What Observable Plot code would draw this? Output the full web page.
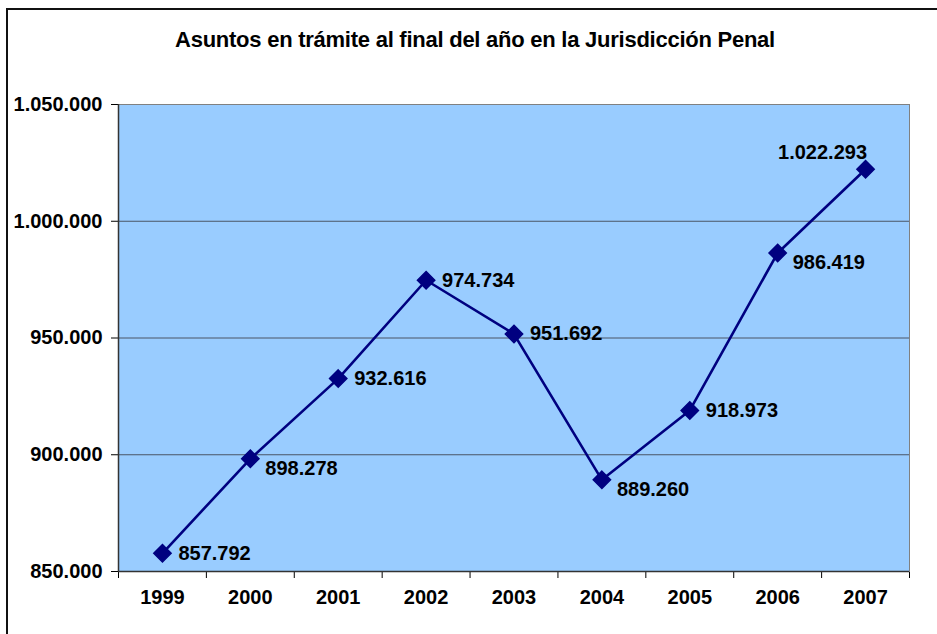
<!DOCTYPE html>
<html>
<head>
<meta charset="utf-8">
<script src="https://cdn.jsdelivr.net/npm/d3@7"></script>
<script src="https://cdn.jsdelivr.net/npm/@observablehq/plot@0.6"></script>
<style>
  html, body { margin: 0; padding: 0; background: #fff; }
  #wrap { position: relative; width: 937px; height: 634px; overflow: hidden; }
  #border { position: absolute; left: 6px; top: 8px; width: 940px; height: 640px; border: 2px solid #111; box-sizing: border-box; }
  #title { position: absolute; left: 0; width: 950px; top: 27px; text-align: center;
    font-family: "Liberation Sans", Arial, sans-serif; font-weight: bold; font-size: 22px; letter-spacing: -0.25px; color: #000; }
  #chart { position: absolute; left: 0; top: 0; }
</style>
</head>
<body>
<div id="wrap">
  <div id="border"></div>
  <div id="chart"></div>
  <div id="title">Asuntos en trámite al final del año en la Jurisdicción Penal</div>
</div>
<script>
const years = [1999, 2000, 2001, 2002, 2003, 2004, 2005, 2006, 2007];
const values = [857792, 898278, 932616, 974734, 951692, 889260, 918973, 986419, 1022293];
const yTicks = [850000, 900000, 950000, 1000000, 1050000];
const gridValues = [900000, 950000, 1000000];
const labelsRight = [1999, 2001, 2002, 2003, 2005];
const labelsLowerRight = [2000, 2004, 2006];
const labelsAbove = [2007];

const data = years.map((y, i) => ({year: y, value: values[i]}));
const fmt = d3.formatLocale({decimal: ",", thousands: ".", grouping: [3], currency: ["", ""]}).format(",");
const boundaries = years.map(y => y - 0.5).concat([years[years.length - 1] + 0.5]);
const inSet = s => data.filter(d => s.includes(d.year));

const chart = Plot.plot({
  width: 937,
  height: 634,
  marginLeft: 118,
  marginRight: 28,
  marginTop: 104,
  marginBottom: 63,
  style: {fontFamily: "'Liberation Sans', Arial, sans-serif", fontSize: "20px", fontWeight: "bold", color: "#000", background: "transparent"},
  x: {type: "linear", domain: [boundaries[0], boundaries[boundaries.length - 1]], ticks: boundaries, tickFormat: () => "", tickSize: 7, label: null},
  y: {domain: [yTicks[0], yTicks[yTicks.length - 1]], ticks: yTicks, tickFormat: fmt, tickSize: 7, tickPadding: 9, label: null},
  marks: [
    Plot.frame({fill: "#99CCFF", stroke: "#808080"}),
    Plot.ruleY(gridValues, {stroke: "#4a5566", strokeWidth: 1}),
    Plot.ruleX([boundaries[0]], {stroke: "#333", strokeWidth: 1.5}),
    Plot.ruleY([yTicks[0]], {stroke: "#333", strokeWidth: 1.5}),
    Plot.text(years, {x: d => d, frameAnchor: "bottom", dy: 32, text: d => String(d), fontSize: 20}),
    Plot.line(data, {x: "year", y: "value", stroke: "#000080", strokeWidth: 2.6}),
    Plot.dot(data, {x: "year", y: "value", symbol: "diamond2", r: 7.8, fill: "#000080", stroke: "#000080"}),
    Plot.text(inSet(labelsRight), {x: "year", y: "value", text: d => fmt(d.value), textAnchor: "start", dx: 16, dy: 0, fontSize: 20}),
    Plot.text(inSet(labelsLowerRight), {x: "year", y: "value", text: d => fmt(d.value), textAnchor: "start", dx: 15, dy: 10, fontSize: 20}),
    Plot.text(inSet(labelsAbove), {x: "year", y: "value", text: d => fmt(d.value), textAnchor: "middle", dx: -43, dy: -17, fontSize: 20})
  ]
});
document.getElementById("chart").appendChild(chart);
</script>
</body>
</html>
